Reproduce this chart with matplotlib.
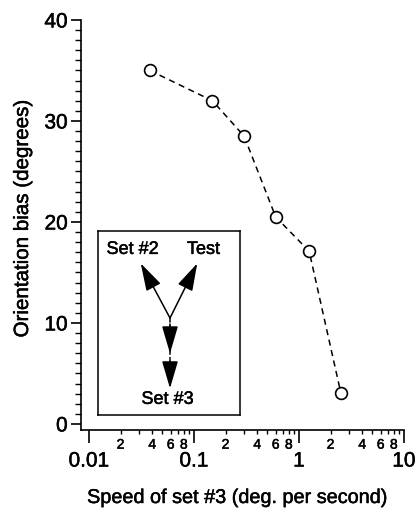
import matplotlib
matplotlib.use("Agg")
import matplotlib.pyplot as plt
import matplotlib.patheffects as pe
from matplotlib.ticker import FixedLocator, FixedFormatter, NullFormatter

plt.rcParams['font.family'] = ['Liberation Sans', 'DejaVu Sans']
heavy = [pe.withStroke(linewidth=0.35, foreground='black')]

speed = [0.038, 0.15, 0.3, 0.6, 1.25, 2.5]
bias = [35.0, 32.0, 28.5, 20.5, 17.1, 3.1]

major_x = [0.01, 0.1, 1, 10]
major_x_labels = ["0.01", "0.1", "1", "10"]
minor_x = [m * d for d in (0.01, 0.1, 1) for m in range(2, 10)]
minor_x_labels = [str(m) if m in (2, 4, 6, 8) else "" for d in (0.01, 0.1, 1) for m in range(2, 10)]
y_ticks = [0, 10, 20, 30, 40]

fig = plt.figure(figsize=(4.2, 5.09), dpi=100)
ax = fig.add_axes([81/420, 79/509, 323/420, 410/509])

ax.plot(speed, bias, linestyle=(0, (4, 3)), color='black', linewidth=1.1,
        marker='o', markersize=8.5, markerfacecolor='white',
        markeredgecolor='black', markeredgewidth=1.2, zorder=3)

ax.set_xscale('log')
ax.set_xlim(0.00839, 10)
ax.set_ylim(-0.6, 40)

for s in ('top', 'right'):
    ax.spines[s].set_visible(False)
for s in ('left', 'bottom'):
    ax.spines[s].set_linewidth(1.2)

ax.xaxis.set_major_locator(FixedLocator(major_x))
ax.xaxis.set_major_formatter(FixedFormatter(major_x_labels))
ax.xaxis.set_minor_locator(FixedLocator(minor_x))
ax.xaxis.set_minor_formatter(FixedFormatter(minor_x_labels))
ax.tick_params(axis='x', which='major', direction='out', length=9.5, width=1.2,
               labelsize=15, pad=6)
ax.tick_params(axis='x', which='minor', direction='out', length=3, width=1.0,
               labelsize=10, pad=2.5)

ax.set_yticks(y_ticks)
ax.yaxis.set_minor_locator(FixedLocator(list(range(0, 41))))
ax.yaxis.set_minor_formatter(NullFormatter())
ax.tick_params(axis='y', which='major', direction='out', length=7.5, width=1.2,
               labelsize=15, pad=2)
ax.tick_params(axis='y', which='minor', direction='out', length=4, width=1.0)

for lab in ax.get_xticklabels() + ax.get_yticklabels() + ax.get_xticklabels(minor=True):
    lab.set_path_effects(heavy)

ax.set_xlabel("Speed of set #3 (deg. per second)", fontsize=14.3, path_effects=heavy)
ax.set_ylabel("Orientation bias (degrees)", fontsize=14.8, path_effects=heavy)
# label anchors (figure pixels)
ax.xaxis.set_label_coords((238 - 81) / 323, -(488 - 430) / 410)
ax.yaxis.set_label_coords(-(81 - 32) / 323, (430 - 219) / 410)

# inset diagram
ins = fig.add_axes([98/420, (509-415)/509, 142/420, 184/509])
ins.set_xlim(0, 1)
ins.set_ylim(0, 1)
ins.set_autoscale_on(False)
ins.set_xticks([])
ins.set_yticks([])
for s in ins.spines.values():
    s.set_linewidth(1.1)

cx, cy = 0.507, 0.527
head = dict(arrowstyle="-|>,head_length=0.85,head_width=0.25",
            mutation_scale=20, color='black', lw=1.1, shrinkA=0, shrinkB=0)
for tip in [(0.301, 0.824), (0.699, 0.824)]:
    ins.annotate("", xy=tip, xytext=(cx, cy), arrowprops=head)

down_tips = [0.335, 0.145]
dashdot = (0, (3, 1.5, 1, 1.5))
ins.plot([cx, cx], [cy, down_tips[1] + 0.1], color='black', lw=1.1,
         linestyle=dashdot, zorder=1)
for t in down_tips:
    ins.annotate("", xy=(cx, t), xytext=(cx, t + 0.16), arrowprops=head, zorder=2)

ins.text(0.243, 0.90, "Set #2", ha='center', va='center', fontsize=13, path_effects=heavy)
ins.text(0.742, 0.90, "Test", ha='center', va='center', fontsize=13, path_effects=heavy)
ins.text(0.489, 0.085, "Set #3", ha='center', va='center', fontsize=13, path_effects=heavy)

fig.savefig("out.png", dpi=100)
